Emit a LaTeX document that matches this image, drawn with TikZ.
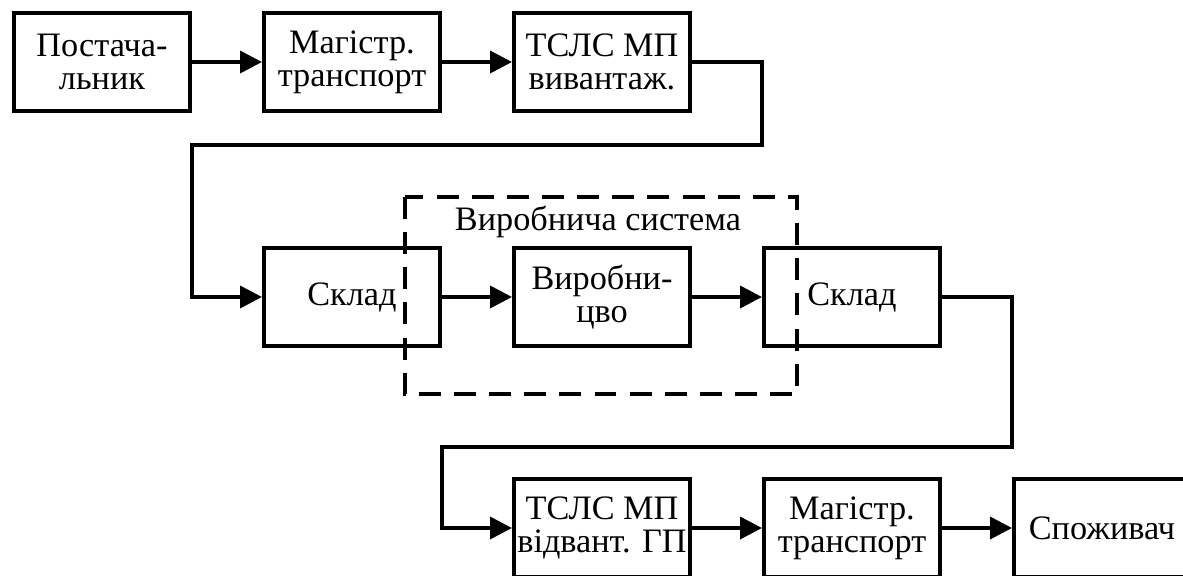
\documentclass[tikz,border=0pt]{standalone}
\usepackage{fontspec}
\setmainfont{Liberation Serif}
\usetikzlibrary{arrows.meta}

\begin{document}
\begin{tikzpicture}[x=0.02cm, y=-0.02cm,
  block/.style={draw, line width=2.3pt, minimum width=3.52cm, minimum height=1.96cm,
    inner sep=0pt, align=center, font=\fontsize{19.5}{19}\selectfont},
  flow/.style={line width=2.1pt, -{Triangle[length=12.5pt,width=12.5pt]}},
  ]
  \useasboundingbox (0,0) rectangle (1183,575);
  \clip (0,0) rectangle (1183,575);
  % top row
  \node[block] (supplier) at (102,62) {Постача-\\льник};
  \node[block] (trunkin)  at (352,62) {Магістр.\\транспорт};
  \node[block] (unload)   at (602,62) {ТСЛС МП\\вивантаж.};
  % middle row
  \node[block] (storein)  at (352,297) {Склад};
  \node[block] (prod)     at (602,297) {Виробни-\\цво};
  \node[block] (storeout) at (852,297) {Склад};
  % bottom row
  \node[block] (ship)     at (602,528) {ТСЛС МП\\відвант. ГП};
  \node[block] (trunkout) at (852,528) {Магістр.\\транспорт};
  \node[block] (consumer) at (1102,528) {Споживач};
  % production system frame
  \draw[line width=2.1pt, dash pattern=on 12.5pt off 7.5pt] (405,197) rectangle (797,394);
  \node[font=\fontsize{19.5}{19}\selectfont] (systitle) at (598,222) {Виробнича система};
  % turns of the long connectors
  \coordinate (turnA) at (762,145);
  \coordinate (turnB) at (192,145);
  \coordinate (turnC) at (1012,447);
  \coordinate (turnD) at (442,447);
  % connectors
  \draw[flow] (supplier) -- (trunkin);
  \draw[flow] (trunkin) -- (unload);
  \draw[flow] (unload.east) -| (turnA) -- (turnB) |- (storein.west);
  \draw[flow] (storein) -- (prod);
  \draw[flow] (prod) -- (storeout);
  \draw[flow] (storeout.east) -| (turnC) -- (turnD) |- (ship.west);
  \draw[flow] (ship) -- (trunkout);
  \draw[flow] (trunkout) -- (consumer);
\end{tikzpicture}
\end{document}
